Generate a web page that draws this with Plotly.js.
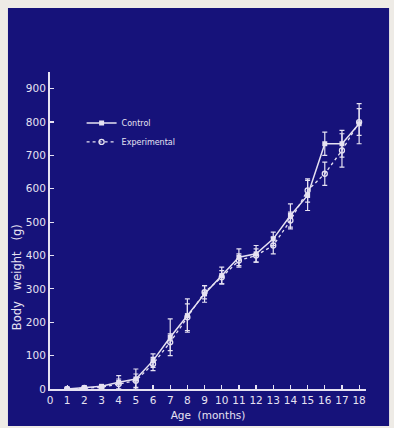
<!DOCTYPE html>
<html>
<head>
<meta charset="utf-8">
<script src="https://cdn.plot.ly/plotly-3.0.1.min.js"></script>
<style>
html,body{margin:0;padding:0;background:#eeebe6;}
#chart{width:394px;height:428px;}
</style>
</head>
<body>
<div id="chart"></div>
<script>
const months = [1,2,3,4,5,6,7,8,9,10,11,12,13,14,15,16,17,18];
const controlWeight = [0,4,8,20,30,85,155,220,285,340,395,405,450,520,580,735,735,795];
const controlErr    = [2,3,4,20,30,20,55,50,25,25,25,25,20,35,45,35,40,60];
const expWeight     = [0,3,5,15,25,75,140,215,290,335,385,400,430,505,595,645,715,800];
const expErr        = [2,3,4,15,20,20,25,40,20,20,20,20,25,25,35,35,50,40];
const xTicks = [0,1,2,3,4,5,6,7,8,9,10,11,12,13,14,15,16,17,18];
const yTicks = [0,100,200,300,400,500,600,700,800,900];

const ink = '#e6e2f2';
const navy = '#16127a';
const font = 'DejaVu Sans, sans-serif';

const traces = [
  {
    x: months, y: controlWeight, name: 'Control', type: 'scatter', mode: 'lines+markers',
    line: {color: ink, width: 1.5},
    marker: {symbol: 'square', size: 5, color: ink},
    error_y: {type: 'data', array: controlErr, visible: true, color: ink, thickness: 1.2, width: 2.5}
  },
  {
    x: months, y: expWeight, name: 'Experimental', type: 'scatter', mode: 'lines+markers',
    line: {color: ink, width: 1.3, dash: 'dot'},
    marker: {symbol: 'circle-open', size: 5, color: ink, line: {width: 1.3, color: ink}},
    error_y: {type: 'data', array: expErr, visible: true, color: ink, thickness: 1.2, width: 2.5}
  }
];

const layout = {
  width: 394, height: 428,
  margin: {l: 50, r: 28, t: 72, b: 39},
  paper_bgcolor: '#eeebe6',
  plot_bgcolor: 'rgba(0,0,0,0)',
  font: {family: font, color: ink, size: 10},
  showlegend: true,
  legend: {
    x: 0.1, y: 0.885, xanchor: 'left', yanchor: 'top',
    bgcolor: 'rgba(0,0,0,0)', font: {size: 8, color: ink, family: font},
    itemwidth: 30, tracegroupgap: 0
  },
  shapes: [{
    type: 'rect', xref: 'paper', yref: 'paper', layer: 'below',
    x0: -0.133, x1: 1.073, y0: -0.117, y1: 1.202,
    fillcolor: navy, line: {width: 0}
  }],
  xaxis: {
    range: [0, 18.4], tickvals: xTicks, ticktext: xTicks.map(String),
    ticks: 'inside', ticklen: 4, tickwidth: 1.2, tickcolor: ink,
    showline: true, linecolor: ink, linewidth: 2, showgrid: false, zeroline: false,
    tickfont: {size: 10.5, color: ink, family: font},
    title: {text: 'Age\u00a0\u00a0(months)', font: {size: 10.5, color: ink, family: font}, standoff: 7}
  },
  yaxis: {
    range: [0, 950], tickvals: yTicks, ticktext: yTicks.map(String),
    ticks: 'inside', ticklen: 4, tickwidth: 1.2, tickcolor: ink,
    showline: true, linecolor: ink, linewidth: 2, showgrid: false, zeroline: false,
    tickfont: {size: 10.5, color: ink, family: font}
  },
  annotations: [{
    text: 'Body\u00a0\u00a0\u00a0weight\u00a0\u00a0\u00a0(g)', xref: 'paper', yref: 'paper', x: -0.104, y: 0.353,
    xanchor: 'center', yanchor: 'middle',
    showarrow: false, textangle: -90, font: {size: 11.5, color: ink, family: font}
  }]
};

Plotly.newPlot('chart', traces, layout, {displayModeBar: false, staticPlot: true});
</script>
</body>
</html>
